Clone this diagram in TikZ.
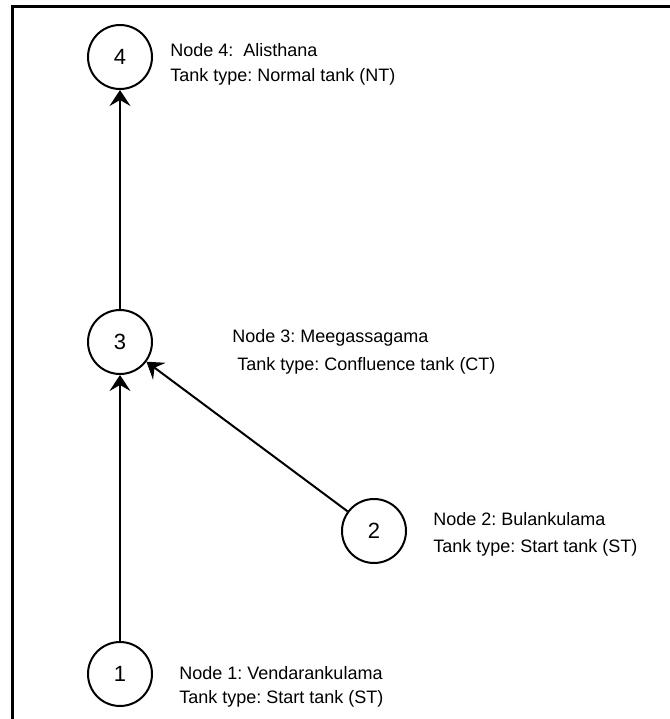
\documentclass[tikz,border=0pt]{standalone}
\usepackage{fontspec}
\setmainfont{Liberation Sans}
\usetikzlibrary{arrows.meta}
\frenchspacing
\begin{document}
\begin{tikzpicture}[x=0.5pt,y=-0.5pt,
  tank/.style={circle,draw,line width=1pt,minimum size=32pt,inner sep=0pt,font=\fontsize{11}{13}\selectfont},
  info/.style={anchor=base west,inner sep=0pt,font=\fontsize{9}{11}\selectfont},
  flow/.style={line width=1pt,-{Stealth[length=8pt,width=10.5pt,inset=3pt]}}]
\useasboundingbox (0,0) rectangle (670,719);
% frame edges
\draw[line width=1.5pt] (670,6) -- (12,6) -- (12,719);
% tanks
\node[tank] (n4) at (120,57) {4};
\node[tank] (n3) at (120,342) {3};
\node[tank] (n2) at (374,531) {2};
\node[tank] (n1) at (120,674) {1};
% flow connections
\draw[flow] (n1) -- (n3);
\draw[flow] (n2) -- (n3);
\draw[flow] (n3) -- (n4);
% descriptions
\node[info] (t4a) at (170,56) {Node 4:\ \ Alisthana};
\node[info] (t4b) at (170,81) {Tank type: Normal tank (NT)};
\node[info] (t3a) at (232,342) {Node 3: Meegassagama};
\node[info] (t3b) at (237,370) {Tank type: Confluence tank (CT)};
\node[info] (t2a) at (433,525) {Node 2: Bulankulama};
\node[info] (t2b) at (433,552) {Tank type: Start tank (ST)};
\node[info] (t1a) at (179,679) {Node 1: Vendarankulama};
\node[info] (t1b) at (179,703) {Tank type: Start tank (ST)};
\end{tikzpicture}
\end{document}
